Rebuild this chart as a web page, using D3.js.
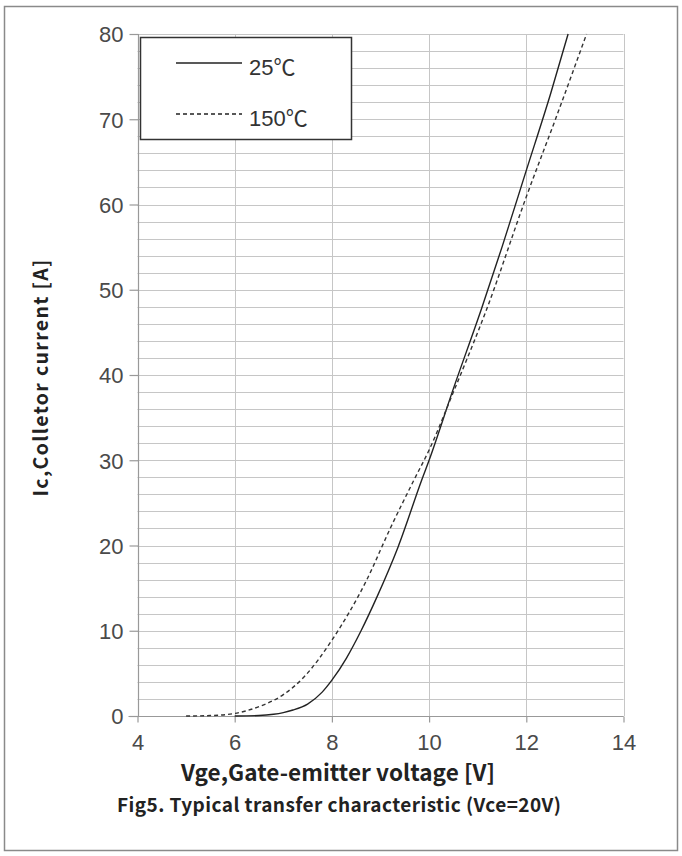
<!DOCTYPE html>
<html>
<head>
<meta charset="utf-8">
<script src="https://cdn.jsdelivr.net/npm/d3@7"></script>
<style>
	html, body { margin: 0; padding: 0; background: #fff; }
	svg { display: block; }
</style>
</head>
<body>
<div id="chart"></div>
<script>
// Vge [V] / Ic [A]
var vge25 = [6.0, 6.5, 6.8, 7.0, 7.2, 7.5, 7.8, 8.0, 8.3, 8.6, 8.93, 9.36, 9.85, 10.0, 10.5, 11.08, 11.5, 12.0, 12.5, 12.86];
var ic25 = [0, 0.05, 0.2, 0.4, 0.7, 1.4, 2.8, 4.2, 6.8, 10, 14, 19.8, 27.7, 30, 38.4, 47.8, 55, 64, 73, 80];

var vge150 = [5.0, 5.5, 6.0, 6.5, 7.0, 7.43, 8.0, 8.72, 9.2, 9.69, 10.0, 10.5, 11.19, 12.0, 12.6, 13.24];
var ic150 = [0, 0.05, 0.3, 1.1, 2.5, 4.6, 8.9, 16, 22, 27.7, 31.2, 38.0, 47.8, 60.9, 70, 80];

var xTicks = [4, 6, 8, 10, 12, 14];
var yTicks = [0, 10, 20, 30, 40, 50, 60, 70, 80];
var yGrid = d3.range(0, 81, 2);

var seriesNames = ['25\u2103', '150\u2103'];

var W = 682, H = 856;
var margin = { top: 34, right: 58.5, bottom: 140, left: 137.5 };

var svg = d3.select('#chart')
	.append('svg')
	.attr('width', W)
	.attr('height', H);

// outer frame
svg.append('rect')
	.attr('x', 4.5).attr('y', 6.5)
	.attr('width', 673).attr('height', 844)
	.attr('fill', 'none')
	.attr('stroke', '#8a8a8a')
	.attr('stroke-width', 1.5);

var x = d3.scaleLinear().domain([4, 14]).range([margin.left, W - margin.right]);
var y = d3.scaleLinear().domain([0, 80]).range([H - margin.bottom, margin.top]);

// grid
var grid = svg.append('g').attr('stroke', '#c6c6c6').attr('stroke-width', 1);
grid.selectAll('.hg')
	.data(yGrid)
	.enter()
	.append('line')
	.attr('x1', x(4)).attr('x2', x(14))
	.attr('y1', d => Math.round(y(d)) + 0.5)
	.attr('y2', d => Math.round(y(d)) + 0.5);
grid.selectAll('.vg')
	.data(xTicks)
	.enter()
	.append('line')
	.attr('x1', d => Math.round(x(d)) + 0.5)
	.attr('x2', d => Math.round(x(d)) + 0.5)
	.attr('y1', y(0)).attr('y2', y(80));

// axes
var xAxis = d3.axisBottom(x).tickValues(xTicks).tickSize(6).tickPadding(12).tickFormat(d3.format('d'));
var yAxis = d3.axisLeft(y).tickValues(yTicks).tickSize(9).tickPadding(6).tickFormat(d3.format('d'));

var gx = svg.append('g')
	.attr('transform', 'translate(0,' + (Math.round(y(0)) + 0.5) + ')')
	.call(xAxis);
var gy = svg.append('g')
	.attr('transform', 'translate(' + (Math.round(x(4)) + 0.5) + ',0)')
	.call(yAxis);

[gx, gy].forEach(g => {
	g.select('.domain').attr('stroke', '#999').attr('stroke-width', 1.2);
	g.selectAll('.tick line').attr('stroke', '#999').attr('stroke-width', 1.2);
	g.selectAll('.tick text')
		.attr('fill', '#4a4a4a')
		.style('font', '22px "Liberation Sans", Arial, sans-serif');
});
gy.select('.domain').attr('d', 'M0,' + y(0) + 'V' + y(80));
gx.select('.domain').attr('d', 'M' + (x(4) - 9) + ',0H' + x(14));
gy.selectAll('.tick text').attr('dy', '0.36em');

// curves
var line = d3.line()
	.x(d => x(d[0]))
	.y(d => y(d[1]))
	.curve(d3.curveMonotoneX);

svg.append('path')
	.datum(d3.zip(vge25, ic25))
	.attr('d', line)
	.attr('fill', 'none')
	.attr('stroke', '#222')
	.attr('stroke-width', 1.4);

svg.append('path')
	.datum(d3.zip(vge150, ic150))
	.attr('d', line)
	.attr('fill', 'none')
	.attr('stroke', '#333')
	.attr('stroke-width', 1.4)
	.attr('stroke-dasharray', '4,3');

// legend
var legend = svg.append('g');
legend.append('rect')
	.attr('x', 140.5).attr('y', 37.5)
	.attr('width', 211).attr('height', 102)
	.attr('fill', '#fff')
	.attr('stroke', '#333')
	.attr('stroke-width', 1.5);

var legItems = legend.selectAll('.item')
	.data(seriesNames)
	.enter()
	.append('g')
	.attr('transform', (d, i) => 'translate(0,' + (63 + i * 51) + ')');
legItems.append('line')
	.attr('x1', 176).attr('x2', 242)
	.attr('y1', 0).attr('y2', 0)
	.attr('stroke', '#222')
	.attr('stroke-width', 1.4)
	.attr('stroke-dasharray', (d, i) => i ? '4,3' : null);
legItems.append('text')
	.attr('x', 249)
	.attr('y', 4)
	.attr('dy', '0.36em')
	.attr('fill', '#333')
	.style('font', '22px "Liberation Sans", "Noto Sans CJK SC", sans-serif')
	.text(d => d);

// titles
var titleFont = '"Noto Sans CJK SC", "Noto Sans", sans-serif';
svg.append('text')
	.attr('transform', 'translate(41,378) rotate(-90)')
	.attr('text-anchor', 'middle')
	.attr('dy', '0.36em')
	.attr('fill', '#222')
	.style('font-family', titleFont)
	.style('font-weight', 'bold')
	.style('font-size', '19.5px')
	.attr('textLength', 237)
	.attr('lengthAdjust', 'spacing')
	.text('Ic,Colletor current [A]');

svg.append('text')
	.attr('x', 338)
	.attr('y', 773)
	.attr('text-anchor', 'middle')
	.attr('dy', '0.36em')
	.attr('fill', '#222')
	.style('font-family', titleFont)
	.style('font-weight', 'bold')
	.style('font-size', '22.5px')
	.attr('textLength', 314)
	.attr('lengthAdjust', 'spacing')
	.text('Vge,Gate-emitter voltage [V]');

svg.append('text')
	.attr('x', 339)
	.attr('y', 805)
	.attr('text-anchor', 'middle')
	.attr('dy', '0.36em')
	.attr('fill', '#222')
	.style('font-family', titleFont)
	.style('font-weight', 'bold')
	.style('font-size', '19px')
	.attr('textLength', 444)
	.attr('lengthAdjust', 'spacing')
	.text('Fig5. Typical transfer characteristic (Vce=20V)');
</script>
</body>
</html>
